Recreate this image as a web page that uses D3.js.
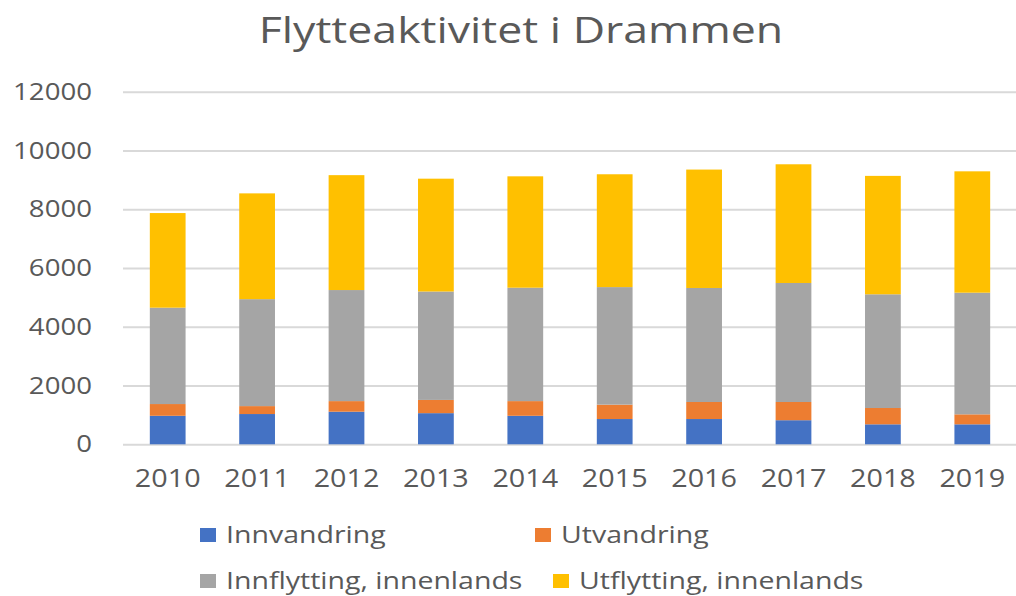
<!DOCTYPE html>
<html>
<head>
<meta charset="utf-8">
<script src="https://cdn.jsdelivr.net/npm/d3@7"></script>
<style>
  body { margin: 0; background: #fff; }
  svg { display: block; font-family: 'Open Sans', sans-serif; }
</style>
</head>
<body>
<svg id="chart" width="1016" height="596"></svg>
<script>
const years = ['2010', '2011', '2012', '2013', '2014', '2015', '2016', '2017', '2018', '2019'];
const innvandring = [970, 1030, 1110, 1060, 970, 860, 860, 820, 680, 680];
const utvandring = [400, 270, 360, 450, 500, 490, 580, 620, 555, 340];
const innflytting = [3280, 3640, 3780, 3690, 3860, 4000, 3880, 4050, 3870, 4140];
const utflytting = [3220, 3600, 3910, 3840, 3790, 3840, 4030, 4040, 4030, 4130];
const seriesNames = ['Innvandring', 'Utvandring', 'Innflytting, innenlands', 'Utflytting, innenlands'];
const yTicks = [0, 2000, 4000, 6000, 8000, 10000, 12000];

const colours = ['#4472C4', '#ED7D31', '#A5A5A5', '#FFC000'];
const textColour = '#595959';
// source picture is squeezed wider than the font
const axisStretch = 1.15;
const labelStretch = 1.24;

const svg = d3.select('#chart');
const plotLeft = 123, plotRight = 1017, plotTop = 91.7, plotBottom = 444.3;

const rows = years.map((yr, i) => ({
	year: yr,
	[seriesNames[0]]: innvandring[i],
	[seriesNames[1]]: utvandring[i],
	[seriesNames[2]]: innflytting[i],
	[seriesNames[3]]: utflytting[i],
}));
const stacked = d3.stack().keys(seriesNames)(rows);

const x = d3.scaleBand().domain(years).range([plotLeft, plotRight]).paddingInner(0.6).paddingOuter(0.3);
const y = d3.scaleLinear().domain([0, 12000]).range([plotBottom, plotTop]);

// title
svg.append('text')
	.attr('transform', `translate(521,43) scale(${labelStretch},1)`)
	.attr('text-anchor', 'middle')
	.style('font-size', '36px')
	.style('fill', textColour)
	.text('Flytteaktivitet i Drammen');

// y axis + gridlines
const yAxis = svg.append('g')
	.attr('transform', `translate(${plotLeft},0)`)
	.call(d3.axisLeft(y).tickValues(yTicks).tickSize(-(1016 - plotLeft)).tickPadding(0).tickFormat(d3.format('d')));
yAxis.select('.domain').remove();
yAxis.selectAll('line').attr('stroke', '#D9D9D9').attr('stroke-width', 2);
yAxis.selectAll('text')
	.attr('x', null)
	.attr('transform', `translate(-31,0) scale(${axisStretch},1)`)
	.style('font-size', '24px')
	.style('font-family', "'Open Sans', sans-serif")
	.style('fill', textColour);

// bars
svg.append('g')
	.selectAll('g')
	.data(stacked)
	.enter()
	.append('g')
	.attr('fill', (d, i) => colours[i])
	.selectAll('rect')
	.data(d => d)
	.enter()
	.append('rect')
	.attr('x', d => x(d.data.year))
	.attr('width', x.bandwidth())
	.attr('y', d => y(d[1]))
	.attr('height', d => y(d[0]) - y(d[1]));

// x labels
const xAxis = svg.append('g')
	.attr('transform', `translate(0,${plotBottom})`)
	.call(d3.axisBottom(x).tickSize(0).tickPadding(0));
xAxis.select('.domain').remove();
xAxis.selectAll('text')
	.attr('y', null)
	.attr('dy', null)
	.attr('transform', `translate(0,42.5) scale(${axisStretch},1)`)
	.style('font-size', '25px')
	.style('font-family', "'Open Sans', sans-serif")
	.style('fill', textColour);

// legend
const legendPos = [[200, 543], [535, 543], [200, 589], [553, 589]];
const legend = svg.append('g')
	.selectAll('g')
	.data(seriesNames)
	.enter()
	.append('g')
	.attr('transform', (d, i) => `translate(${legendPos[i][0]},${legendPos[i][1]})`);
legend.append('rect')
	.attr('x', 0)
	.attr('y', -15)
	.attr('width', 16)
	.attr('height', 14)
	.attr('fill', (d, i) => colours[i]);
legend.append('text')
	.attr('transform', `translate(26,0) scale(${labelStretch},1)`)
	.style('font-size', '23px')
	.style('fill', textColour)
	.text(d => d);
</script>
</body>
</html>
